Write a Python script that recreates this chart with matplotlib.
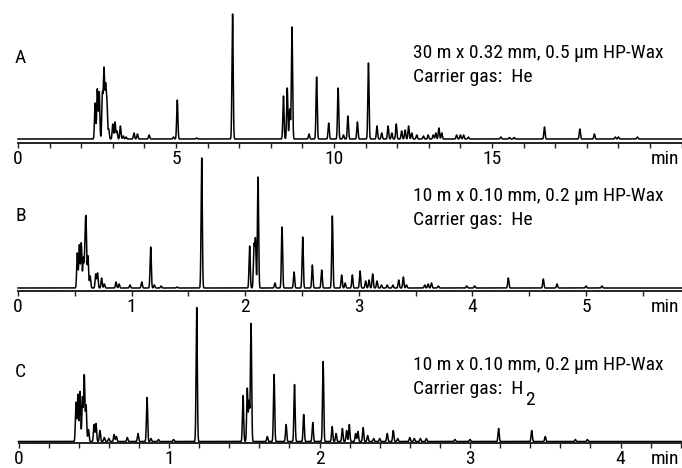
import matplotlib
matplotlib.use("Agg")
import matplotlib.pyplot as plt
import numpy as np
from matplotlib.ticker import MultipleLocator, NullFormatter
from matplotlib import font_manager


def _pick_narrow_font():
    # prefer a narrow / condensed sans face, like the original artwork
    prefs = ["LiberationSansNarrow-Regular", "RobotoCondensed-Regular", "Roboto_Condensed",
             "DejaVuSansCondensed.ttf", "OpenSans_Condensed-Regular", "NotoSans-Condensed",
             "Condensed-Regular", "Narrow"]
    files = [f.fname for f in font_manager.fontManager.ttflist]
    for key in prefs:
        for fn in files:
            base = fn.split("/")[-1]
            if key in base and "Bold" not in base and "Italic" not in base and "Oblique" not in base:
                return fn
    return None


narrow = _pick_narrow_font()
if narrow:
    font_manager.fontManager.addfont(narrow)
    fam = font_manager.FontProperties(fname=narrow).get_name()
    plt.rcParams["font.family"] = [fam, "DejaVu Sans"]
    if "Condensed" in narrow:
        plt.rcParams["font.stretch"] = "condensed"

# ---- data: peak retention times (min) and peak heights (arbitrary units) ----
a_times = [2.44, 2.51, 2.57, 2.67, 2.72, 2.77, 2.81, 2.87, 3.00, 3.07, 3.13, 3.24, 3.33, 3.42,
           3.67, 3.78, 4.15, 4.92, 5.04, 5.65, 6.79, 8.40, 8.52, 8.60, 8.67, 9.21, 9.45, 9.83,
           10.13, 10.30, 10.44, 10.74, 11.09, 11.36, 11.51, 11.71, 11.83, 11.97, 12.14, 12.25,
           12.36, 12.46, 12.62, 12.83, 12.98, 13.14, 13.22, 13.32, 13.41, 13.88, 14.00, 14.10,
           14.25, 15.28, 15.55, 15.70, 16.66, 17.78, 18.24, 18.90, 19.00, 19.60]
a_heights = [36, 50, 47, 45, 69, 50, 38, 10, 15, 17, 8, 13, 3, 2,
             6, 5, 4, 2, 39, 1, 125, 43, 51, 30, 112, 5, 62, 16,
             51, 4, 23, 17, 76, 13, 6, 13, 6, 15, 8, 9,
             13, 6, 4, 3, 4, 4, 6, 11, 6, 4, 4, 4,
             2, 2, 1.5, 1.5, 12, 10, 5, 2, 2, 2]

b_times = [0.522, 0.540, 0.557, 0.575, 0.590, 0.599, 0.616, 0.635, 0.684, 0.700, 0.736, 0.76,
           0.863, 0.89, 0.986, 1.089, 1.168, 1.20, 1.26, 1.40, 1.617, 2.039, 2.077, 2.090,
           2.113, 2.262, 2.324, 2.430, 2.506, 2.591, 2.673, 2.767, 2.849, 2.88, 2.943, 3.011,
           3.06, 3.09, 3.122, 3.16, 3.20, 3.25, 3.30, 3.351, 3.392, 3.42, 3.58, 3.61, 3.64,
           3.70, 3.95, 4.02, 4.316, 4.624, 4.745, 5.00, 5.14]
b_heights = [35, 43, 45, 30, 40, 60, 32, 12, 14, 15, 10, 4,
             6, 4, 3, 6, 41, 3, 2, 1, 130, 42, 42, 48,
             111, 5, 61, 16, 51, 23, 18, 72, 13, 5, 13, 17,
             7, 8, 14, 7, 3, 3, 3, 8, 11, 3, 3, 4, 5,
             2, 2, 2, 10, 9, 4, 2, 2]

c_times = [0.382, 0.395, 0.409, 0.425, 0.437, 0.449, 0.465, 0.502, 0.515, 0.541, 0.57, 0.60,
           0.635, 0.65, 0.723, 0.794, 0.854, 0.88, 0.93, 1.03, 1.184, 1.492, 1.520, 1.532,
           1.545, 1.653, 1.698, 1.778, 1.834, 1.895, 1.955, 2.024, 2.084, 2.11, 2.152, 2.18,
           2.198, 2.24, 2.255, 2.29, 2.32, 2.36, 2.40, 2.45, 2.49, 2.52, 2.60, 2.63, 2.67,
           2.71, 2.90, 3.00, 3.19, 3.41, 3.50, 3.70, 3.78]
c_heights = [39, 47, 50, 44, 66, 36, 12, 17, 18, 11, 4, 3,
             7, 5, 4, 8, 44, 3, 2, 2, 134, 46, 53, 40,
             118, 5, 67, 17, 57, 27, 19, 80, 15, 8, 13, 11,
             17, 8, 10, 14, 6, 3, 3, 8, 11, 3, 4, 3, 3,
             3, 2, 2, 13, 11, 5, 2, 2]

panels = [
    dict(tag="A", times=a_times, heights=a_heights, ppm=31.6, x0=18, axis_y=143, top_y=10,
         base_y=139, major=5, minor=1, maxlab=15,
         text=("30 m x 0.32 mm, 0.5 \u00b5m HP-Wax", "Carrier gas:  He"), h2=False,
         tag_y=58, text_y=53),
    dict(tag="B", times=b_times, heights=b_heights, ppm=113.6, x0=18, axis_y=291, top_y=150,
         base_y=288, major=1, minor=0.5, maxlab=5,
         text=("10 m x 0.10 mm, 0.2 \u00b5m HP-Wax", "Carrier gas:  He"), h2=False,
         tag_y=216, text_y=196),
    dict(tag="C", times=c_times, heights=c_heights, ppm=150.5, x0=18.5, axis_y=443, top_y=300,
         base_y=441.5, major=1, minor=0.2, maxlab=4,
         text=("10 m x 0.10 mm, 0.2 \u00b5m HP-Wax", "Carrier gas:  H"), h2=True,
         tag_y=372, text_y=365),
]

W, H = 682, 468
fig = plt.figure(figsize=(W / 100, H / 100), dpi=100)
fs = 14


def make_fmt(maxlab):
    return lambda v, pos: f"{v:g}" if v <= maxlab + 1e-6 else ""


for p in panels:
    left = p["x0"] / W
    bottom = 1 - p["axis_y"] / H
    height = (p["axis_y"] - p["top_y"]) / H
    ax = fig.add_axes([left, bottom, 1 - left, height])
    ax.patch.set_visible(False)
    xmax = (W - p["x0"]) / p["ppm"]
    off = p["axis_y"] - p["base_y"]
    ax.set_xlim(0, xmax)
    ax.set_ylim(-off, p["axis_y"] - p["top_y"] - off)

    # chromatogram trace built from the peak table
    t = np.linspace(0, xmax, 16000)
    sigma = 0.6 / p["ppm"]
    y = np.zeros_like(t)
    for rt, h in zip(p["times"], p["heights"]):
        y += h * np.exp(-0.5 * ((t - rt) / sigma) ** 2)
    ax.plot(t, y, color="black", lw=1.1, clip_on=False)

    for s in ["top", "right", "left"]:
        ax.spines[s].set_visible(False)
    ax.spines["bottom"].set_linewidth(1.4)
    ax.spines["bottom"].set_color("#222222")
    ax.set_yticks([])
    ax.xaxis.set_major_locator(MultipleLocator(p["major"]))
    ax.xaxis.set_minor_locator(MultipleLocator(p["minor"]))
    ax.xaxis.set_minor_formatter(NullFormatter())
    ax.xaxis.set_major_formatter(make_fmt(p["maxlab"]))
    ax.tick_params(axis="x", which="both", direction="out", length=3.5, width=1.0,
                   color="#222222", labelsize=fs, pad=1.5)
    ax.annotate("min", xy=(665, 0), xycoords=("figure pixels", "axes fraction"),
                xytext=(0, -5), textcoords="offset points", ha="center", va="top", fontsize=fs)

    fig.text(20.5 / W, 1 - p["tag_y"] / H, p["tag"], ha="center", va="center", fontsize=fs)
    fig.text(413 / W, 1 - p["text_y"] / H, p["text"][0], ha="left", va="center", fontsize=fs)
    t2 = fig.text(413 / W, 1 - (p["text_y"] + 24) / H, p["text"][1], ha="left", va="center",
                  fontsize=fs)
    if p["h2"]:
        fig.canvas.draw()
        ax.annotate("2", xy=(1, 0), xycoords=t2, xytext=(1.5, -8), textcoords="offset points",
                    ha="left", va="bottom", fontsize=fs)

fig.savefig("out.png", dpi=100)
